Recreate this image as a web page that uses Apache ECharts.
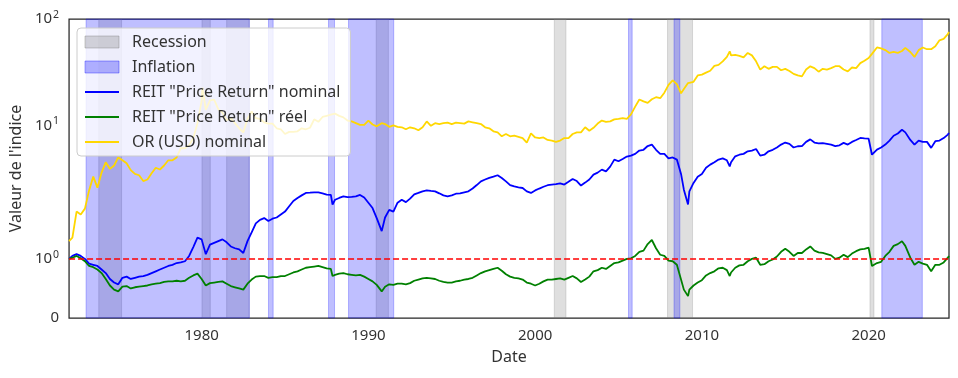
<!DOCTYPE html>
<html><head><meta charset="utf-8">
<script src="https://cdn.jsdelivr.net/npm/echarts@6/dist/echarts.min.js"></script>
<style>html,body{margin:0;padding:0;background:#fff}#c{width:958px;height:378px}</style>
</head><body><div id="c"></div>
<script>
// ---- data (decimal years) ----
const dates = [
1972.05,1972.25,1972.5,1972.75,
1973.0,1973.25,1973.5,1973.75,
1974.0,1974.25,1974.5,1974.75,
1975.0,1975.25,1975.5,1975.75,
1976.0,1976.25,1976.5,1976.75,
1977.0,1977.25,1977.5,1977.75,
1978.0,1978.25,1978.5,1978.75,
1979.0,1979.25,1979.5,1979.75,
1980.0,1980.05,1980.25,1980.5,1980.75,
1981.0,1981.25,1981.5,1981.75,
1982.0,1982.25,1982.5,1982.75,
1983.0,1983.25,1983.5,1983.75,
1984.0,1984.25,1984.5,1984.75,
1985.0,1985.25,1985.5,1985.75,
1986.0,1986.25,1986.5,1986.75,
1987.0,1987.25,1987.5,1987.75,1987.85,
1988.0,1988.25,1988.5,1988.75,
1989.0,1989.25,1989.5,1989.75,
1990.0,1990.25,1990.5,1990.8,
1991.0,1991.25,1991.5,1991.75,
1992.0,1992.25,1992.5,1992.75,
1993.0,1993.25,1993.5,1993.75,
1994.0,1994.25,1994.5,1994.75,
1995.0,1995.25,1995.5,1995.75,
1996.0,1996.25,1996.5,1996.75,
1997.0,1997.25,1997.5,1997.75,
1998.0,1998.25,1998.5,1998.75,
1999.0,1999.25,1999.5,1999.75,
2000.0,2000.25,2000.5,2000.75,
2001.0,2001.25,2001.5,2001.75,
2002.0,2002.25,2002.5,2002.75,
2003.0,2003.25,2003.5,2003.75,
2004.0,2004.25,2004.5,2004.75,
2005.0,2005.25,2005.5,2005.75,
2006.0,2006.25,2006.5,2006.75,
2007.0,2007.25,2007.5,2007.75,
2008.0,2008.25,2008.5,2008.75,2008.92,
2009.17,2009.25,2009.5,2009.75,
2010.0,2010.25,2010.5,2010.75,
2011.0,2011.25,2011.5,2011.67,2011.75,
2012.0,2012.25,2012.5,2012.75,
2013.0,2013.25,2013.5,2013.75,
2014.0,2014.25,2014.5,2014.75,
2015.0,2015.25,2015.5,2015.75,
2016.0,2016.25,2016.5,2016.75,
2017.0,2017.25,2017.5,2017.75,
2018.0,2018.25,2018.5,2018.75,
2019.0,2019.25,2019.5,2019.75,
2020.0,2020.2,2020.5,2020.75,
2021.0,2021.25,2021.5,2021.75,
2022.0,2022.2,2022.5,2022.75,
2023.0,2023.25,2023.5,2023.75,
2024.0,2024.25,2024.5,2024.75,2024.82
];
const reitNominal = [
1.00,1.05,1.08,1.05,
1.00,0.92,0.90,0.88,
0.82,0.76,0.66,0.60,
0.57,0.68,0.70,0.66,
0.68,0.70,0.71,0.73,
0.76,0.79,0.82,0.85,
0.88,0.90,0.93,0.94,
0.96,1.05,1.20,1.36,
1.33,1.30,1.08,1.24,1.27,
1.30,1.33,1.28,1.21,
1.18,1.16,1.10,1.30,
1.45,1.60,1.66,1.69,
1.64,1.68,1.70,1.75,
1.80,1.89,1.98,2.08,
2.20,2.32,2.33,2.35,
2.35,2.30,2.24,2.22,1.92,
2.00,2.08,2.15,2.12,
2.13,2.15,2.22,2.10,
1.95,1.86,1.69,1.47,
1.70,1.83,1.80,1.95,
2.00,1.96,2.05,2.25,
2.32,2.40,2.45,2.42,
2.40,2.30,2.20,2.15,
2.20,2.28,2.30,2.35,
2.40,2.55,2.75,2.98,
3.10,3.21,3.30,3.40,
3.20,2.98,2.75,2.67,
2.62,2.58,2.40,2.32,
2.45,2.55,2.65,2.74,
2.78,2.80,2.85,2.78,
2.95,3.14,3.00,2.72,
2.90,3.10,3.45,3.60,
3.84,3.70,4.10,4.77,
4.60,4.83,5.10,5.20,
5.40,5.80,5.90,6.40,
6.60,5.90,5.40,5.40,
4.90,5.00,4.77,3.50,2.49,
1.92,2.40,2.88,3.30,
3.50,4.00,4.28,4.50,
4.77,4.90,4.70,4.12,4.50,
5.12,5.30,5.40,5.71,
5.80,6.00,5.20,5.30,
5.71,5.90,6.20,6.60,
6.90,6.70,6.20,6.37,
6.40,7.00,7.39,6.90,
6.77,6.80,6.70,6.60,
6.40,6.50,6.85,6.60,
7.00,7.30,7.62,7.55,
7.50,5.30,5.92,6.20,
6.60,7.20,8.00,8.40,
9.10,8.60,7.30,6.60,
7.20,7.00,7.00,6.15,
7.10,7.20,7.60,8.20,8.50
];
const reitReal = [
1.00,1.02,1.05,1.01,
0.96,0.88,0.86,0.82,
0.76,0.66,0.55,0.48,
0.45,0.53,0.54,0.50,
0.52,0.53,0.54,0.55,
0.57,0.58,0.59,0.61,
0.62,0.62,0.63,0.62,
0.63,0.68,0.72,0.75,
0.66,0.64,0.55,0.59,0.60,
0.61,0.62,0.58,0.54,
0.52,0.50,0.48,0.58,
0.65,0.70,0.71,0.71,
0.68,0.69,0.69,0.71,
0.71,0.74,0.77,0.79,
0.82,0.85,0.86,0.87,
0.88,0.86,0.84,0.83,0.71,
0.73,0.75,0.76,0.74,
0.73,0.72,0.73,0.70,
0.66,0.62,0.56,0.45,
0.53,0.57,0.56,0.58,
0.58,0.57,0.59,0.63,
0.65,0.67,0.68,0.67,
0.66,0.63,0.61,0.60,
0.60,0.62,0.63,0.65,
0.66,0.68,0.72,0.76,
0.79,0.81,0.83,0.85,
0.80,0.74,0.70,0.68,
0.67,0.65,0.60,0.58,
0.55,0.58,0.62,0.65,
0.65,0.66,0.67,0.65,
0.68,0.71,0.67,0.61,
0.65,0.70,0.79,0.81,
0.85,0.83,0.88,0.93,
0.94,0.97,1.00,1.01,
1.05,1.12,1.14,1.25,
1.32,1.18,1.07,1.05,
0.97,0.96,0.90,0.65,0.48,
0.37,0.48,0.55,0.60,
0.64,0.72,0.76,0.79,
0.84,0.85,0.81,0.71,0.77,
0.85,0.89,0.90,0.96,
1.00,1.02,0.90,0.91,
0.96,0.99,1.04,1.12,
1.17,1.12,1.05,1.10,
1.10,1.16,1.21,1.14,
1.11,1.10,1.08,1.06,
1.00,1.02,1.07,1.03,
1.09,1.13,1.16,1.17,
1.19,0.88,0.93,0.95,
1.05,1.12,1.22,1.25,
1.30,1.22,1.02,0.90,
0.95,0.92,0.90,0.79,
0.90,0.90,0.94,1.02,1.05
];
const goldNominal = [
1.30,1.36,1.80,1.75,
1.85,2.45,3.30,2.60,
3.60,4.50,3.90,4.20,
5.00,4.70,4.40,3.80,
3.50,3.40,3.00,3.10,
3.55,4.00,3.85,4.20,
4.70,4.70,5.00,6.10,
6.10,6.50,7.60,10.5,
17.0,22.6,14.0,17.2,17.5,
14.2,13.2,11.2,11.7,
10.5,9.4,8.6,11.5,
13.5,11.7,11.5,10.7,
10.4,10.4,9.4,9.2,
8.3,8.7,8.7,8.8,
9.4,9.2,9.5,11.4,
10.8,12.0,12.3,12.6,13.1,
12.9,12.3,11.9,11.1,
10.9,10.5,10.1,10.1,
11.1,10.2,9.8,10.5,
10.3,9.7,10.0,9.7,
9.6,9.2,9.6,9.4,
9.0,9.6,10.9,9.9,
10.5,10.3,10.5,10.6,
10.3,10.6,10.5,10.4,
10.9,10.7,10.5,10.3,
9.6,9.4,8.8,8.6,
7.9,8.3,7.9,8.0,
7.8,7.6,6.9,8.4,
7.7,7.6,7.7,7.3,
7.2,7.0,7.2,7.6,
7.6,8.3,8.6,8.6,
9.6,8.9,9.5,10.4,
11.1,10.8,10.9,11.4,
11.5,11.7,11.5,12.7,
15.0,17.5,16.8,16.3,
17.6,18.4,18.0,20.3,
24.0,26.5,24.4,20.0,22.0,
25.0,25.0,25.7,29.5,
30.0,31.3,32.6,36.3,
37.1,40.0,44.0,49.7,45.5,
46.0,45.0,43.5,48.0,
45.5,40.0,33.4,36.0,
34.0,35.5,35.5,33.0,
34.0,32.5,30.5,29.5,
28.9,33.5,35.9,34.5,
32.0,34.0,33.5,34.5,
36.0,36.0,33.5,32.2,
35.0,34.5,38.5,40.5,
43.0,47.0,54.0,53.0,
51.0,48.0,49.0,48.0,
50.0,53.5,49.0,44.0,
51.0,54.0,52.0,52.0,
55.5,63.0,65.0,72.0,75.5
];
const recessionPeriods = [[1973.83,1975.2],[1980.02,1980.52],[1981.5,1982.86],[1990.47,1991.2],[2001.15,2001.85],[2007.94,2009.44],[2020.08,2020.32]];
const inflationPeriods = [[1973.07,1982.86],[1984.01,1984.29],[1987.61,1987.97],[1988.81,1991.52],[2005.6,2005.82],[2008.33,2008.68],[2020.79,2023.22]];
const refLevel = 1;
const xTicks = [1980, 1990, 2000, 2010, 2020];
const yTicks = [0, 1, 10, 100];
const yTickLabels = ['{b|0}', '{b|10}{s|0}', '{b|10}{s|1}', '{b|10}{s|2}'];
const names = ['Recession', 'Inflation', 'REIT "Price Return" nominal', 'REIT "Price Return" réel', 'OR (USD) nominal'];

// symmetric-log scale (linthresh 2, linscale 1, base 10)
function symlog(v) {
  const lt = 2, ls = 1 / (1 - 1 / 10), a = Math.abs(v);
  if (a <= lt) return v * ls;
  return Math.sign(v) * lt * (ls + Math.log10(a / lt));
}
const FONT = "'Noto Sans', sans-serif";
const TXT = '#333333';
function lineData(vals) { return dates.map((d, i) => [d, symlog(vals[i])]); }

const chart = echarts.init(document.getElementById('c'), null, {renderer: 'canvas'});
chart.setOption({
  animation: false,
  backgroundColor: '#ffffff',
  grid: {left: 69, right: 9, top: 19, bottom: 60, show: true, borderColor: '#262626', borderWidth: 1.25, backgroundColor: 'transparent'},
  xAxis: {
    type: 'value', min: 1972.05, max: 2024.82,
    axisLine: {show: false}, axisTick: {show: false}, splitLine: {show: false},
    axisLabel: {customValues: xTicks, formatter: v => String(Math.round(v)), fontFamily: FONT, fontSize: 15, color: TXT, margin: 10},
    name: 'Date', nameLocation: 'middle', nameGap: 31,
    nameTextStyle: {fontFamily: FONT, fontSize: 16, color: TXT}
  },
  yAxis: {
    type: 'value', min: 0, max: symlog(100),
    axisLine: {show: false}, axisTick: {show: false}, splitLine: {show: false},
    axisLabel: {
      customValues: yTicks.map(symlog),
      formatter: v => { const i = yTicks.findIndex(t => Math.abs(symlog(t) - v) < 1e-6); return i >= 0 ? yTickLabels[i] : ''; },
      margin: 10,
      rich: {
        b: {fontFamily: FONT, fontSize: 15, color: TXT},
        s: {fontFamily: FONT, fontSize: 10.5, color: TXT, verticalAlign: 'top', padding: [0, 0, 8, 1]}
      }
    },
    name: "Valeur de l'indice", nameLocation: 'middle', nameGap: 45,
    nameTextStyle: {fontFamily: FONT, fontSize: 16, color: TXT}
  },
  legend: {
    orient: 'vertical', left: 77, top: 28,
    padding: [6, 10, 6, 7], itemWidth: 34, itemHeight: 12, itemGap: 9,
    backgroundColor: 'rgba(255,255,255,0.8)', borderColor: '#cccccc', borderWidth: 1, borderRadius: 4,
    textStyle: {fontFamily: FONT, fontSize: 16, color: TXT, padding: [0, 0, 0, 8]},
    selectedMode: false,
    data: [
      {name: names[0], icon: 'rect', itemStyle: {color: 'rgba(128,128,128,0.3)', borderColor: 'rgba(128,128,128,0.4)', borderWidth: 1}},
      {name: names[1], icon: 'rect', itemStyle: {color: 'rgba(0,0,255,0.28)', borderColor: 'rgba(0,0,255,0.35)', borderWidth: 1}},
      {name: names[2], itemStyle: {opacity: 0}, lineStyle: {width: 2}},
      {name: names[3], itemStyle: {opacity: 0}, lineStyle: {width: 2}},
      {name: names[4], itemStyle: {opacity: 0}, lineStyle: {width: 2}}
    ]
  },
  series: [
    {name: names[0], type: 'line', data: [], z: 1, color: 'rgba(128,128,128,0.25)',
     markArea: {silent: true, itemStyle: {color: 'rgba(128,128,128,0.25)', borderColor: 'rgba(128,128,128,0.25)', borderWidth: 1},
       data: recessionPeriods.map(p => [{xAxis: p[0]}, {xAxis: p[1]}])}},
    {name: names[1], type: 'line', data: [], z: 1, color: 'rgba(0,0,255,0.25)',
     markArea: {silent: true, itemStyle: {color: 'rgba(0,0,255,0.25)', borderColor: 'rgba(0,0,255,0.25)', borderWidth: 1},
       data: inflationPeriods.map(p => [{xAxis: p[0]}, {xAxis: p[1]}])}},
    {name: names[2], type: 'line', data: lineData(reitNominal), symbol: 'none', color: '#0000ff', lineStyle: {width: 1.8, color: '#0000ff'}, z: 3},
    {name: names[3], type: 'line', data: lineData(reitReal), symbol: 'none', color: '#008000', lineStyle: {width: 1.8, color: '#008000'}, z: 3},
    {name: names[4], type: 'line', data: lineData(goldNominal), symbol: 'none', color: '#ffd700', lineStyle: {width: 1.8, color: '#ffd700'}, z: 3},
    {name: 'ref', type: 'line', data: [], z: 4,
     markLine: {silent: true, symbol: 'none', label: {show: false},
       lineStyle: {color: '#ff0000', type: [6, 3], width: 1.6},
       data: [{yAxis: symlog(refLevel)}]}}
  ]
});
</script>
</body></html>
